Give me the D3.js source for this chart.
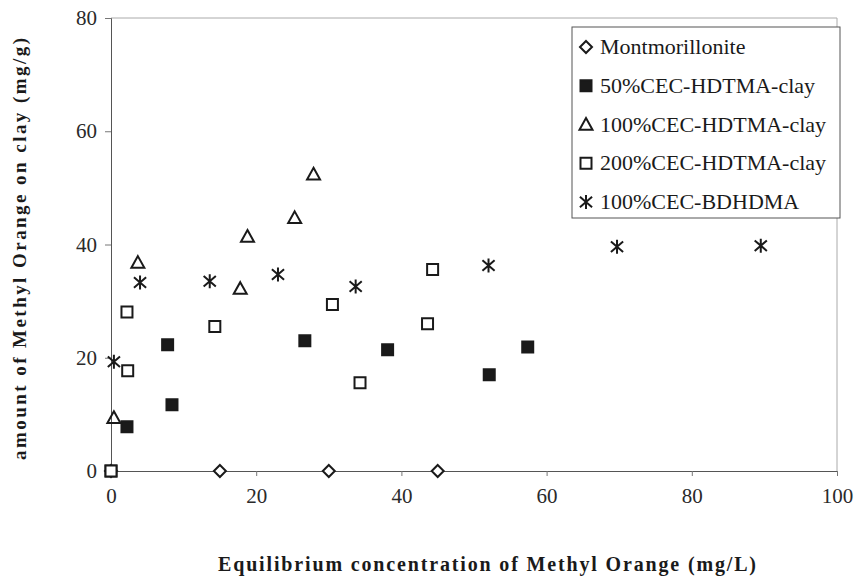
<!DOCTYPE html>
<html>
<head>
<meta charset="utf-8">
<script src="https://cdn.jsdelivr.net/npm/d3@7"></script>
<style>
  body { margin: 0; background: #fff; }
</style>
</head>
<body>
<svg id="canvas_svg" width="856" height="584"></svg>
<script>
// data (x: mg/L, y: mg/g)
var montX = [0, 15, 30, 45];
var montY = [0, 0, 0, 0];

var hd50X = [0, 2.2, 7.8, 8.4, 26.7, 38.1, 52.1, 57.4];
var hd50Y = [0, 7.8, 22.3, 11.7, 23.0, 21.4, 17.0, 21.9];

var hd100X = [0.4, 3.7, 17.8, 18.8, 25.3, 27.9];
var hd100Y = [9.4, 36.8, 32.2, 41.4, 44.7, 52.4];

var hd200X = [0, 2.2, 2.3, 14.3, 30.5, 34.3, 43.6, 44.3];
var hd200Y = [0, 28.1, 17.7, 25.5, 29.4, 15.6, 26.0, 35.6];

var bdX = [0.4, 4.0, 13.6, 23.0, 33.7, 52.0, 69.7, 89.5];
var bdY = [19.3, 33.3, 33.5, 34.7, 32.6, 36.3, 39.6, 39.8];

var seriesNames = ["Montmorillonite", "50%CEC-HDTMA-clay", "100%CEC-HDTMA-clay",
                   "200%CEC-HDTMA-clay", "100%CEC-BDHDMA"];
var xTicks = [0, 20, 40, 60, 80, 100];
var yTicks = [0, 20, 40, 60, 80];

var serif = "'Liberation Serif', 'Times New Roman', 'DejaVu Serif', serif";

var svg = d3.select("#canvas_svg");
var plotLeft = 111, plotRight = 837, plotTop = 18, plotBottom = 471;

var x = d3.scaleLinear().domain([0, 100]).range([plotLeft, plotRight]);
var y = d3.scaleLinear().domain([0, 80]).range([plotBottom, plotTop]);

// marker shapes
function diamond(s) { return "M0," + (-s) + "L" + s + ",0L0," + s + "L" + (-s) + ",0Z"; }
function square(s) { return "M" + (-s) + "," + (-s) + "h" + (2 * s) + "v" + (2 * s) + "h" + (-2 * s) + "Z"; }
function triangle(s) { return "M0," + (-s) + "L" + s + "," + (s * 0.8) + "L" + (-s) + "," + (s * 0.8) + "Z"; }
function star(s) {
  var a = s * 0.87;
  return "M0," + (-s) + "V" + s + "M" + (-a) + "," + (-s * 0.75) + "L" + a + "," + (s * 0.75) +
         "M" + a + "," + (-s * 0.75) + "L" + (-a) + "," + (s * 0.75);
}

var series = [
  {xs: montX, ys: montY, path: diamond(6), fill: "#fff"},
  {xs: hd50X, ys: hd50Y, path: square(5.5), fill: "#1a1a1a"},
  {xs: hd100X, ys: hd100Y, path: triangle(6.5), fill: "none"},
  {xs: hd200X, ys: hd200Y, path: square(5.5), fill: "#fff"},
  {xs: bdX, ys: bdY, path: star(7), fill: "none"}
];

// plot area border (top / right)
svg.append("path")
  .attr("d", "M" + plotLeft + "," + plotTop + "H" + plotRight + "V" + plotBottom)
  .attr("fill", "none").attr("stroke", "#aaa").attr("stroke-width", 1);

// axes
var xAxis = d3.axisBottom(x).tickValues(xTicks).tickSizeOuter(0).tickSize(5).tickPadding(12);
var yAxis = d3.axisLeft(y).tickValues(yTicks).tickSizeOuter(0).tickSize(6).tickPadding(8);

var gx = svg.append("g").attr("transform", "translate(0," + plotBottom + ")").call(xAxis);
var gy = svg.append("g").attr("transform", "translate(" + plotLeft + ",0)").call(yAxis);
[gx, gy].forEach(function(g) {
  g.attr("font-family", null).attr("font-size", null);
  g.select(".domain").attr("stroke", "#555");
  g.selectAll(".tick line").attr("stroke", "#777");
  g.selectAll(".tick text")
    .style("font-family", serif).style("font-size", "21px").style("fill", "#2a2a2a");
});

// points
series.forEach(function(s) {
  var pts = s.xs.map(function(v, i) { return [v, s.ys[i]]; });
  svg.append("g").selectAll("path")
    .data(pts)
    .enter()
    .append("path")
    .attr("d", s.path)
    .attr("transform", function(d) { return "translate(" + x(d[0]) + "," + y(d[1]) + ")"; })
    .attr("fill", s.fill)
    .attr("stroke", "#1a1a1a")
    .attr("stroke-width", 2);
});

// axis titles
svg.append("text")
  .attr("x", 487).attr("y", 571)
  .attr("text-anchor", "middle")
  .style("font-family", serif).style("font-size", "20px").style("font-weight", "bold")
  .style("fill", "#1a1a1a")
  .attr("textLength", 538).attr("lengthAdjust", "spacing")
  .text("Equilibrium concentration of Methyl Orange (mg/L)");

svg.append("text")
  .attr("transform", "translate(26,249) rotate(-90)")
  .attr("text-anchor", "middle")
  .style("font-family", serif).style("font-size", "19px").style("font-weight", "bold")
  .style("fill", "#1a1a1a")
  .attr("textLength", 422).attr("lengthAdjust", "spacing")
  .text("amount of Methyl Orange on clay (mg/g)");

// legend
var legend = svg.append("g");
legend.append("rect")
  .attr("x", 572).attr("y", 27).attr("width", 268).attr("height", 191)
  .attr("fill", "#fff").attr("stroke", "#555").attr("stroke-width", 1);

var rowY = d3.scalePoint().domain(d3.range(5)).range([47, 202]);
series.forEach(function(s, i) {
  legend.append("path")
    .attr("d", s.path)
    .attr("transform", "translate(586," + rowY(i) + ")")
    .attr("fill", s.fill).attr("stroke", "#1a1a1a").attr("stroke-width", 2);
  legend.append("text")
    .attr("x", 600).attr("y", rowY(i) + 7)
    .style("font-family", serif).style("font-size", "22px").style("fill", "#1a1a1a")
    .text(seriesNames[i]);
});
</script>
</body>
</html>
